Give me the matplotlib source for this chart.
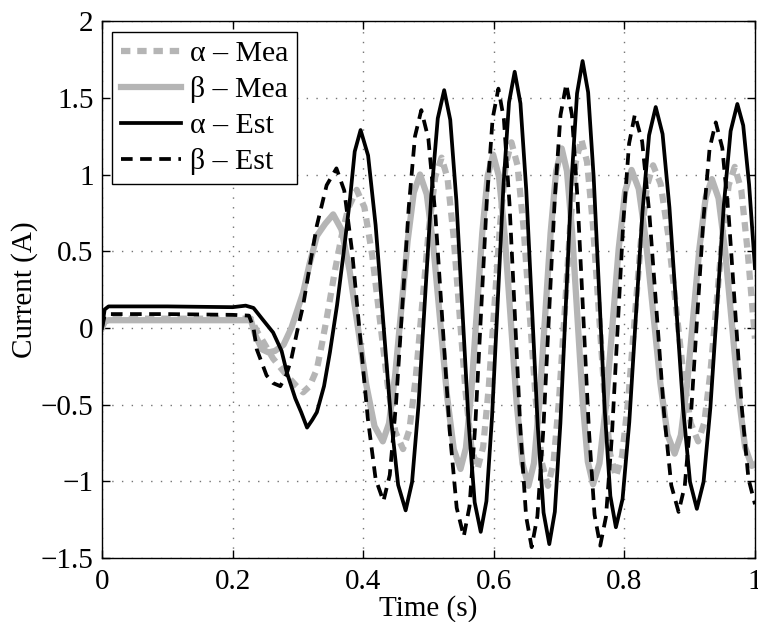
import numpy as np
import matplotlib
matplotlib.use("Agg")
import matplotlib.pyplot as plt

plt.rcParams["font.family"] = ["Liberation Serif", "DejaVu Serif"]

# --- data (time in s, current in A) ---
t_alpha_est = [
    0.0, 0.004, 0.01, 0.1, 0.2, 0.22, 0.232, 0.245, 0.262, 0.275, 0.283, 0.296,
    0.305, 0.314, 0.322, 0.329, 0.34, 0.349, 0.36, 0.37, 0.38, 0.387, 0.396,
    0.4075, 0.419, 0.4305, 0.442, 0.4535, 0.465,
    0.4748, 0.4847, 0.4945, 0.5043, 0.5142, 0.524,
    0.5333, 0.5427, 0.552, 0.5613, 0.5707, 0.58,
    0.5887, 0.5973, 0.606, 0.6147, 0.6233, 0.632,
    0.6408, 0.6497, 0.6585, 0.6673, 0.6762, 0.685,
    0.6935, 0.702, 0.7105, 0.719, 0.7275, 0.736,
    0.7445, 0.753, 0.7615, 0.77, 0.7785, 0.787,
    0.7972, 0.8075, 0.8175, 0.8277, 0.8378, 0.848,
    0.8585, 0.869, 0.8795, 0.89, 0.9005, 0.911,
    0.9213, 0.9317, 0.942, 0.9523, 0.9627, 0.973,
    0.982, 0.991, 1.0,
]
i_alpha_est = [
    0.0, 0.12, 0.14, 0.14, 0.135, 0.145, 0.13, 0.06, -0.03, -0.15, -0.29, -0.46,
    -0.55, -0.65, -0.6, -0.55, -0.38, -0.16, 0.15, 0.49, 0.85, 1.15, 1.29,
    1.124, 0.67, 0.05, -0.57, -1.024, -1.19,
    -1.006, -0.505, 0.18, 0.865, 1.366, 1.55,
    1.357, 0.83, 0.11, -0.61, -1.137, -1.33,
    -1.13, -0.58, 0.17, 0.92, 1.47, 1.67,
    1.464, 0.9, 0.13, -0.64, -1.204, -1.41,
    -1.199, -0.622, 0.165, 0.953, 1.529, 1.74,
    1.536, 0.98, 0.22, -0.54, -1.096, -1.30,
    -1.116, -0.615, 0.07, 0.755, 1.256, 1.44,
    1.264, 0.785, 0.13, -0.525, -1.004, -1.18,
    -1.003, -0.52, 0.14, 0.8, 1.283, 1.46,
    1.32, 0.935, 0.39,
]

t_beta_est = [
    0.0, 0.004, 0.01, 0.1, 0.2, 0.225, 0.232, 0.237, 0.252, 0.262, 0.273, 0.282,
    0.29, 0.3, 0.308, 0.318, 0.329, 0.344, 0.359,
    0.371, 0.383, 0.395, 0.407, 0.419, 0.431,
    0.4407, 0.4503, 0.46, 0.4697, 0.4793, 0.489,
    0.4998, 0.5107, 0.5215, 0.5323, 0.5432, 0.554,
    0.5628, 0.5717, 0.5805, 0.5893, 0.5982, 0.607,
    0.6155, 0.624, 0.6325, 0.641, 0.6495, 0.658,
    0.6668, 0.6757, 0.6845, 0.6933, 0.7022, 0.711,
    0.7197, 0.7283, 0.737, 0.7457, 0.7543, 0.763,
    0.7718, 0.7807, 0.7895, 0.7983, 0.8072, 0.816,
    0.8272, 0.8383, 0.8495, 0.8607, 0.8718, 0.883,
    0.8925, 0.902, 0.9115, 0.921, 0.9305, 0.94,
    0.95, 0.96, 0.97, 0.98, 0.99, 1.0,
]
i_beta_est = [
    0.0, 0.08, 0.09, 0.09, 0.085, 0.08, 0.0, -0.14, -0.31, -0.36, -0.38, -0.31,
    -0.2, 0.0, 0.145, 0.4, 0.667, 0.93, 1.04,
    0.895, 0.497, -0.045, -0.588, -0.985, -1.13,
    -0.959, -0.492, 0.145, 0.783, 1.249, 1.42,
    1.234, 0.725, 0.03, -0.665, -1.174, -1.36,
    -1.164, -0.63, 0.1, 0.83, 1.364, 1.56,
    1.36, 0.812, 0.065, -0.683, -1.23, -1.43,
    -1.228, -0.675, 0.08, 0.835, 1.388, 1.59,
    1.388, 0.837, 0.085, -0.668, -1.218, -1.42,
    -1.232, -0.717, -0.015, 0.688, 1.202, 1.39,
    1.216, 0.742, 0.095, -0.553, -1.026, -1.20,
    -1.03, -0.565, 0.07, 0.705, 1.17, 1.34,
    1.173, 0.717, 0.095, -0.528, -0.983, -1.15,
]

t_alpha_mea = [
    0.0, 0.004, 0.01, 0.1, 0.2, 0.228, 0.237, 0.247, 0.262, 0.283, 0.298, 0.308,
    0.318, 0.329, 0.337, 0.344, 0.357, 0.367, 0.377, 0.39,
    0.4018, 0.4137, 0.4255, 0.4373, 0.4492, 0.461,
    0.4708, 0.4807, 0.4905, 0.5003, 0.5102, 0.52,
    0.5292, 0.5383, 0.5475, 0.5567, 0.5658, 0.575,
    0.5837, 0.5923, 0.601, 0.6097, 0.6183, 0.627,
    0.6363, 0.6457, 0.655, 0.6643, 0.6737, 0.683,
    0.6915, 0.7, 0.7085, 0.717, 0.7255, 0.734,
    0.7428, 0.7517, 0.7605, 0.7693, 0.7782, 0.787,
    0.7965, 0.806, 0.8155, 0.825, 0.8345, 0.844,
    0.8555, 0.867, 0.8785, 0.89, 0.9015, 0.913,
    0.9223, 0.9317, 0.941, 0.9503, 0.9597, 0.969,
    0.979, 0.989, 1.0,
]
i_alpha_mea = [
    0.0, 0.05, 0.06, 0.06, 0.06, 0.06, -0.02, -0.09, -0.2, -0.31, -0.38, -0.42,
    -0.38, -0.27, -0.1, 0.06, 0.38, 0.6, 0.78, 0.9,
    0.787, 0.477, 0.055, -0.368, -0.677, -0.79,
    -0.663, -0.315, 0.16, 0.635, 0.983, 1.11,
    0.974, 0.602, 0.095, -0.413, -0.784, -0.92,
    -0.777, -0.387, 0.145, 0.678, 1.067, 1.21,
    1.06, 0.65, 0.09, -0.47, -0.88, -1.03,
    -0.879, -0.465, 0.1, 0.665, 1.079, 1.23,
    1.083, 0.68, 0.13, -0.42, -0.823, -0.97,
    -0.834, -0.462, 0.045, 0.553, 0.924, 1.06,
    0.939, 0.61, 0.16, -0.29, -0.62, -0.74,
    -0.62, -0.292, 0.155, 0.603, 0.93, 1.05,
    0.9, 0.49, -0.07,
]

t_beta_mea = [
    0.0, 0.004, 0.01, 0.1, 0.2, 0.228, 0.235, 0.245, 0.255, 0.265, 0.278, 0.29,
    0.308, 0.318, 0.329, 0.342, 0.354,
    0.3667, 0.3793, 0.392, 0.4047, 0.4173, 0.43,
    0.4395, 0.449, 0.4585, 0.468, 0.4775, 0.487,
    0.4973, 0.5077, 0.518, 0.5283, 0.5387, 0.549,
    0.5573, 0.5657, 0.574, 0.5823, 0.5907, 0.599,
    0.608, 0.617, 0.626, 0.635, 0.644, 0.653,
    0.6615, 0.67, 0.6785, 0.687, 0.6955, 0.704,
    0.712, 0.72, 0.728, 0.736, 0.744, 0.752,
    0.7618, 0.7717, 0.7815, 0.7913, 0.8012, 0.811,
    0.822, 0.833, 0.844, 0.855, 0.866, 0.877,
    0.8865, 0.896, 0.9055, 0.915, 0.9245, 0.934,
    0.9442, 0.9543, 0.9645, 0.9747, 0.9848, 0.995, 1.0,
]
i_beta_mea = [
    0.0, 0.04, 0.05, 0.05, 0.05, 0.05, -0.05, -0.14, -0.16, -0.15, -0.11, 0.0,
    0.23, 0.42, 0.6, 0.68, 0.74,
    0.641, 0.37, 0.0, -0.37, -0.641, -0.74,
    -0.623, -0.305, 0.13, 0.565, 0.883, 1.0,
    0.871, 0.52, 0.04, -0.44, -0.791, -0.92,
    -0.783, -0.407, 0.105, 0.618, 0.993, 1.13,
    0.985, 0.59, 0.05, -0.49, -0.885, -1.03,
    -0.883, -0.48, 0.07, 0.62, 1.023, 1.17,
    1.023, 0.622, 0.075, -0.473, -0.873, -1.02,
    -0.883, -0.507, 0.005, 0.518, 0.893, 1.03,
    0.906, 0.567, 0.105, -0.358, -0.696, -0.82,
    -0.7, -0.372, 0.075, 0.523, 0.85, 0.97,
    0.845, 0.502, 0.035, -0.433, -0.775, -0.9, -0.89,
]

x_ticks = [0, 0.2, 0.4, 0.6, 0.8, 1]
x_tick_labels = ["0", "0.2", "0.4", "0.6", "0.8", "1"]
y_ticks = [-1.5, -1, -0.5, 0, 0.5, 1, 1.5, 2]
y_tick_labels = ["\u22121.5", "\u22121", "\u22120.5", "0", "0.5", "1", "1.5", "2"]

grey = "#b5b5b5"

fig = plt.figure(figsize=(7.58, 6.22), dpi=100)
ax = fig.add_axes([0.1346, 0.103, 0.8614, 0.863])

# --- measured currents (grey, thick) ---
ax.plot(t_alpha_mea, i_alpha_mea, color=grey, linewidth=4.5,
        linestyle=(0, (1.5, 1.1)), label="\u03b1 \u2013 Mea")
ax.plot(t_beta_mea, i_beta_mea, color=grey, linewidth=4.5,
        linestyle="-", label="\u03b2 \u2013 Mea")

# --- estimated currents (black) ---
ax.plot(t_alpha_est, i_alpha_est, color="black", linewidth=2.7,
        linestyle="-", label="\u03b1 \u2013 Est")
ax.plot(t_beta_est, i_beta_est, color="black", linewidth=2.7,
        linestyle=(0, (3.1, 2.0)), label="\u03b2 \u2013 Est")

# --- settings ---
ax.set_xlim(0, 1)
ax.set_ylim(-1.5, 2)
ax.set_xticks(x_ticks)
ax.set_xticklabels(x_tick_labels)
ax.set_yticks(y_ticks)
ax.set_yticklabels(y_tick_labels)
ax.tick_params(direction="in", length=6, width=1, labelsize=21,
               top=True, right=True)
ax.tick_params(axis="x", pad=8)
ax.tick_params(axis="y", pad=6)
ax.grid(True, color="0.45", linestyle=(0, (1, 6)), linewidth=1)
for sp in ax.spines.values():
    sp.set_linewidth(1.0)

ax.set_xlabel("Time (s)", fontsize=21, labelpad=0)
ax.set_ylabel("Current (A)", fontsize=21, labelpad=2)

leg = ax.legend(loc="upper left", fontsize=21.5, handlelength=2.0,
                handletextpad=0.3, labelspacing=0.3, borderpad=0.3,
                borderaxespad=0.35, fancybox=False, framealpha=1,
                edgecolor="black")
leg.get_frame().set_linewidth(1.0)

fig.savefig("out.png", dpi=100)
